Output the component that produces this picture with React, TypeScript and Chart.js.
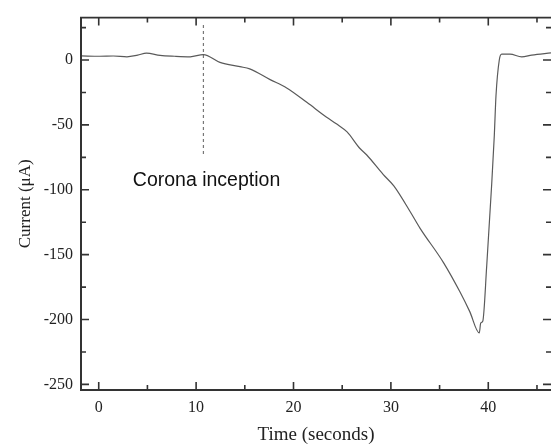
import React, { useEffect, useRef } from "react";
import { Chart, registerables } from "chart.js";

Chart.register(...registerables);

// Time (s) and current (µA)
const timeValues = [
  -1.8, 0.1, 1.5, 2.9, 4.0, 4.9, 6.3, 7.8, 9.4, 10.74, 12.45, 14.5, 15.5, 17.6, 19.3,
  21.4, 23.4, 24.4, 25.5, 26.8, 27.5, 29.2, 30.3, 32.0, 33.0, 35.4, 37.1, 38.1, 39.08,
  39.22, 39.43, 39.84, 40.35, 40.62, 40.79, 41.13, 41.38, 42.23, 43.43, 44.46, 46.44,
];
const currentValues = [
  3.2, 2.9, 3.1, 2.5, 3.8, 5.3, 3.6, 2.9, 2.5, 4.2, -1.8, -5.1, -6.8, -15.1, -21.5,
  -32.8, -44.1, -49.1, -55.4, -68.0, -73.0, -88.1, -97.0, -117.1, -129.7, -156.1, -178.8,
  -193.9, -210.3, -202.7, -201.4, -158.6, -95.7, -57.9, -27.7, 0.0, 4.5, 4.5, 2.5, 3.8, 5.5,
];

// Dashed marker for corona inception
const inceptionTime = [10.75, 10.75];
const inceptionCurrent = [27, -73];
const annotationText = "Corona inception";
const annotationX = 3.5;
const annotationY = -97.4;

// Axis ticks
const xTicks = [0, 10, 20, 30, 40];
const yTicks = [-250, -200, -150, -100, -50, 0];
const xMinorTicks = [5, 15, 25, 35, 45];
const yMinorTicks = [-225, -175, -125, -75, -25, 25];
const xRange = [-1.82, 46.44];
const yRange = [-254.3, 32.7];

const framePlugin = {
  id: "frameTicks",
  afterDraw(chart: any) {
    const { ctx, chartArea } = chart;
    const xs = chart.scales.x;
    const ys = chart.scales.y;
    const { left, right, top, bottom } = chartArea;
    ctx.save();
    ctx.strokeStyle = "#333";
    // frame
    ctx.lineWidth = 2;
    ctx.beginPath();
    ctx.moveTo(left, top);
    ctx.lineTo(left, bottom);
    ctx.lineTo(right + 2, bottom);
    ctx.stroke();
    ctx.lineWidth = 1.6;
    ctx.beginPath();
    ctx.moveTo(left - 1, top);
    ctx.lineTo(right + 2, top);
    ctx.stroke();
    // ticks
    ctx.lineWidth = 1.6;
    const major = 8;
    const minor = 5;
    const drawX = (v: number, len: number) => {
      const p = xs.getPixelForValue(v);
      ctx.beginPath();
      ctx.moveTo(p, bottom);
      ctx.lineTo(p, bottom - len);
      ctx.moveTo(p, top);
      ctx.lineTo(p, top + len);
      ctx.stroke();
    };
    const drawY = (v: number, len: number) => {
      const p = ys.getPixelForValue(v);
      ctx.beginPath();
      ctx.moveTo(left, p);
      ctx.lineTo(left + len, p);
      ctx.moveTo(right, p);
      ctx.lineTo(right - len, p);
      ctx.stroke();
    };
    xTicks.forEach((v) => drawX(v, major));
    xMinorTicks.forEach((v) => drawX(v, minor));
    yTicks.forEach((v) => drawY(v, major));
    yMinorTicks.forEach((v) => drawY(v, minor));
    // annotation
    ctx.fillStyle = "#111";
    ctx.font = '19.5px "Liberation Sans", Arial, sans-serif';
    ctx.textAlign = "left";
    ctx.textBaseline = "alphabetic";
    ctx.fillText(annotationText, xs.getPixelForValue(annotationX), ys.getPixelForValue(annotationY));
    ctx.restore();
  },
};

export default function App() {
  const ref = useRef<HTMLCanvasElement | null>(null);
  useEffect(() => {
    document.body.style.margin = "0";
    const canvas = ref.current;
    if (!canvas) return;
    const serif = "'Liberation Serif', 'Times New Roman', serif";
    const chart = new Chart(canvas, {
      type: "line",
      data: {
        datasets: [
          {
            data: timeValues.map((t, i) => ({ x: t, y: currentValues[i] })),
            borderColor: "#5a5a5a",
            borderWidth: 1.2,
            pointRadius: 0,
            cubicInterpolationMode: "monotone",
            fill: false,
          },
          {
            data: inceptionTime.map((t, i) => ({ x: t, y: inceptionCurrent[i] })),
            borderColor: "#777",
            borderWidth: 1.2,
            borderDash: [3, 3],
            pointRadius: 0,
            fill: false,
          },
        ],
      },
      options: {
        animation: false,
        responsive: false,
        devicePixelRatio: 1,
        layout: { padding: { top: 10, right: 0, left: 0, bottom: 0 } },
        plugins: { legend: { display: false }, tooltip: { enabled: false } },
        scales: {
          x: {
            type: "linear",
            min: xRange[0],
            max: xRange[1],
            afterBuildTicks: (s: any) => {
              s.ticks = xTicks.map((v) => ({ value: v }));
            },
            afterFit: (s: any) => {
              s.height = 57;
            },
            grid: { display: false, drawTicks: false },
            border: { display: false },
            ticks: { color: "#222", font: { family: serif, size: 16 }, padding: 8, maxRotation: 0 },
            title: {
              display: true,
              text: "Time (seconds)",
              color: "#222",
              font: { family: serif, size: 19 },
              padding: { top: 0, bottom: 1 },
            },
          },
          y: {
            type: "linear",
            min: yRange[0],
            max: yRange[1],
            afterBuildTicks: (s: any) => {
              s.ticks = yTicks.map((v) => ({ value: v }));
            },
            afterFit: (s: any) => {
              s.width = 81;
            },
            grid: { display: false, drawTicks: false },
            border: { display: false },
            ticks: { color: "#222", font: { family: serif, size: 16 }, padding: 8 },
            title: {
              display: true,
              text: "Current (μA)",
              color: "#222",
              font: { family: serif, size: 17 },
              padding: { top: 15, bottom: 0 },
            },
          },
        },
      },
      plugins: [framePlugin],
    } as any);
    return () => chart.destroy();
  }, []);
  return (
    <div style={{ position: "absolute", left: 0, top: 0, width: 551, height: 447 }}>
      <canvas ref={ref} width={551} height={447} />
    </div>
  );
}
